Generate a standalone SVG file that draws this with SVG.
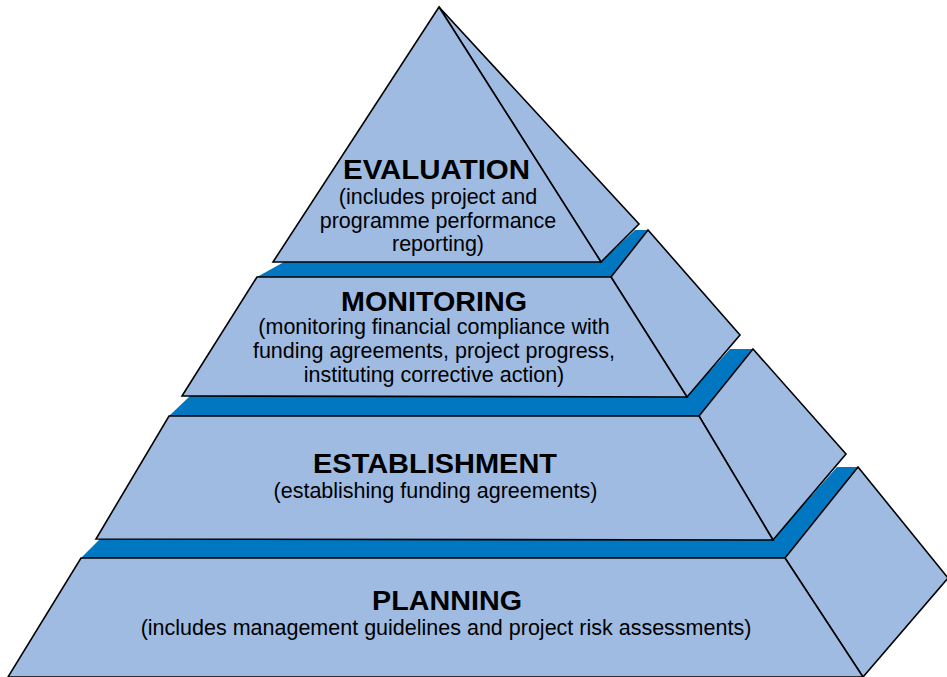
<svg xmlns="http://www.w3.org/2000/svg" width="947" height="677" viewBox="0 0 947 677">
  <style>
    .face { fill: #9fbbe2; stroke: #000; stroke-width: 1.6; stroke-linejoin: miter; }
    .band { fill: #0077c0; stroke: none; }
    .title { font-family: "Liberation Sans", Arial, sans-serif; font-weight: bold; font-size: 27px; fill: #000; text-anchor: middle; }
    .sub { font-family: "Liberation Sans", Arial, sans-serif; font-size: 21.5px; fill: #000; text-anchor: middle; }
  </style>
  <rect width="947" height="677" fill="#ffffff"/>

  <!-- ledges between tiers -->
  <g id="ledges">
    <polygon class="band" points="257,277 284,262 601,262 635,230 648,230 611,277"/>
    <polygon class="band" points="169,416 190,396 687,396 730,349 753,349 699,417"/>
    <polygon class="band" points="81,558 100,539 773,539 837,467 858,467 785,558"/>
  </g>

  <!-- tier 4: planning -->
  <g id="planning">
    <polygon class="face" points="858,467 948,578 863,677 785,558"/>
    <polygon class="face" points="81,558 785,558 863,677 8,677"/>
    <text class="title" x="447" y="610" textLength="150" lengthAdjust="spacingAndGlyphs">PLANNING</text>
    <text class="sub" x="446" y="635">(includes management guidelines and project risk assessments)</text>
  </g>

  <!-- tier 3: establishment -->
  <g id="establishment">
    <polygon class="face" points="753,349 846,454 773,540 699,416"/>
    <polygon class="face" points="169,416 699,416 773,540 96,539"/>
    <text class="title" x="435" y="473" textLength="244" lengthAdjust="spacingAndGlyphs">ESTABLISHMENT</text>
    <text class="sub" x="435.5" y="498">(establishing funding agreements)</text>
  </g>

  <!-- tier 2: monitoring -->
  <g id="monitoring">
    <polygon class="face" points="648,230 740,335 687,397 611,277"/>
    <polygon class="face" points="257,277 611,277 687,397 182,396"/>
    <text class="title" x="434" y="311" textLength="186" lengthAdjust="spacingAndGlyphs">MONITORING</text>
    <text class="sub" x="434" y="334">(monitoring financial compliance with</text>
    <text class="sub" x="434" y="358">funding agreements, project progress,</text>
    <text class="sub" x="434" y="382">instituting corrective action)</text>
  </g>

  <!-- tier 1: evaluation (apex) -->
  <g id="evaluation">
    <polygon class="face" points="439,7 639,224 601,262"/>
    <polygon class="face" points="439,7 601,262 273,262"/>
    <text class="title" x="436.5" y="179" textLength="187" lengthAdjust="spacingAndGlyphs">EVALUATION</text>
    <text class="sub" x="438" y="204">(includes project and</text>
    <text class="sub" x="438" y="227.5">programme performance</text>
    <text class="sub" x="438" y="251">reporting)</text>
  </g>
</svg>
